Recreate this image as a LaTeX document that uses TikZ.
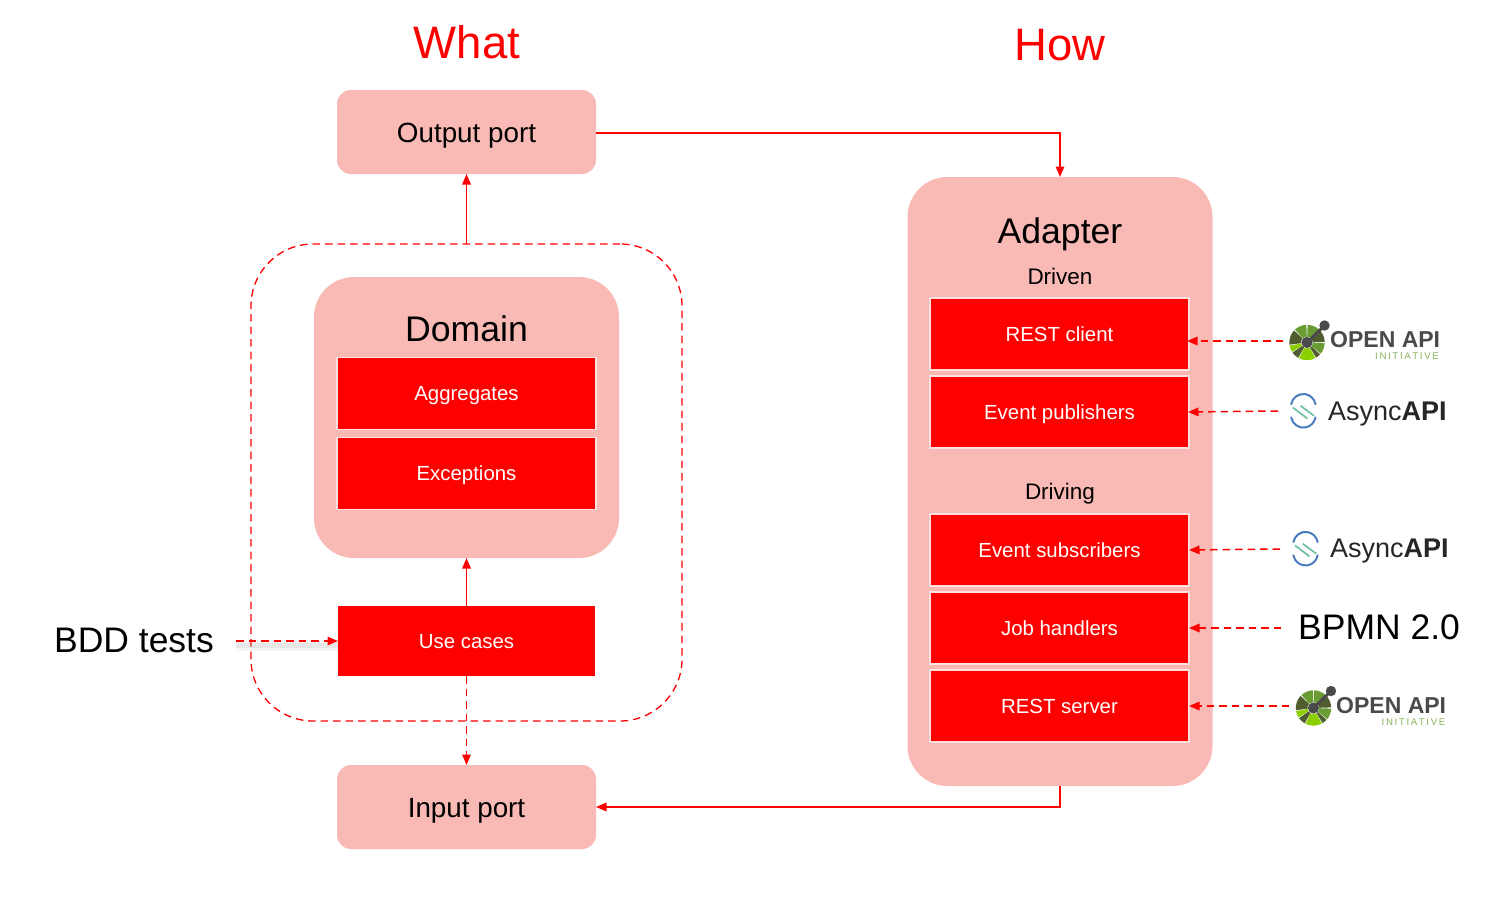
\documentclass[tikz,border=0pt]{standalone}
\usepackage{fontspec}
\setmainfont{Liberation Sans}
\usepackage{tikz}
\usetikzlibrary{arrows.meta, positioning, calc}
\definecolor{boxpink}{HTML}{F9B9B4}
\definecolor{logogray}{HTML}{4A4A4A}
\definecolor{oaiolive}{HTML}{4F5D2F}
\definecolor{oaigreen}{HTML}{6A9C34}
\definecolor{oailime}{HTML}{8CCF00}
\definecolor{oaitext}{HTML}{86B35A}
\definecolor{asyncblue}{HTML}{4A7BBE}
\definecolor{asyncgreen}{HTML}{6CC0A0}
\newcommand{\fsz}[1]{\fontsize{#1}{#1}\selectfont}
\tikzset{
    pinkbox/.style={fill=boxpink, rounded corners=14pt, minimum width=259pt, minimum height=84pt, inner sep=0pt, outer sep=0pt, font=\fsz{27.8}, text height=20pt, text depth=0pt},
    bigbox/.style={fill=boxpink, rounded corners=40pt, inner sep=0pt, outer sep=0pt},
    redbox/.style={fill=red, draw=red!12, line width=1.5pt, minimum width=259pt, minimum height=72pt, inner sep=0pt, outer sep=0pt, text=white, font=\fsz{20.4}, text height=14.7pt, text depth=0pt},
    usebox/.style={fill=red, minimum width=257pt, minimum height=70pt, inner sep=0pt, outer sep=0pt, text=white, font=\fsz{20.4}, text height=14.7pt, text depth=0pt},
    headlabel/.style={text=red, font=\fsz{45.5}, inner sep=0pt},
    titlelabel/.style={font=\fsz{35.6}, inner sep=0pt, text height=25.6pt, text depth=0pt},
    sublabel/.style={font=\fsz{22.5}, inner sep=0pt, text height=16.2pt, text depth=0pt},
    flow/.style={-{Triangle[length=10.5pt,width=8.5pt]}, draw=red, line width=1.5pt},
    dashflow/.style={flow, dash pattern=on 7.5pt off 5pt},
    pics/openapilogo/.style={code={
        \begin{scope}[y=1pt]
        \foreach \angA/\angB/\segcol in {92/133/oaigreen, 137/187/oaiolive, 190/212/oailime, 215/240/oaiolive, 243/298/oailime, 301/318/oaiolive, 321/358/oaigreen, 2/42/oaiolive, 48/88/oaigreen}{
            \fill[\segcol] (\angA:17.7) arc (\angA:\angB:17.7) -- (\angB:6) arc (\angB:\angA:6) -- cycle;
        }
        \draw[logogray, line width=3pt] (0,0) -- (17.5,17);
        \fill[logogray] (0,0) circle (5.6) (17.5,17) circle (5.2);
        \end{scope}
    }},
    pics/asynclogo/.style={code={
        \begin{scope}[y=1pt]
        \draw[asyncblue, line width=2pt, line cap=round] (170:12.3) ++(0,4.5) arc (170:10:12.3);
        \draw[asyncblue, line width=2pt, line cap=round] (190:12.3) ++(0,-4.5) arc (190:350:12.3);
        \draw[asyncgreen, line width=1.7pt] (-10.5,3.3) -- (4,-7.7) (-2.7,5) -- (10.7,-5);
        \end{scope}
    }},
    openlabel/.style={text=logogray, font=\fsz{23}\bfseries, inner sep=0pt, text height=16.5pt, text depth=0pt},
    initlabel/.style={text=oaitext, font=\fsz{9.7}, inner sep=0pt, text height=6.6pt, text depth=0pt},
    asynclabel/.style={text=black!85, font=\fsz{27}, inner sep=0pt, text height=19.4pt, text depth=0pt},
}
\begin{document}
\begin{tikzpicture}[x=1pt, y=-1pt]
    \useasboundingbox (0,0) rectangle (1500,902);
    % titles
    \node[headlabel] (what) at (467,42) {What};
    \node[headlabel] (how) at (1060,45) {How};
    % left column
    \node[pinkbox] (output) at (466.5,132) {Output port};
    \node[pinkbox] (input) at (466.5,807) {Input port};
    \node[draw=red, dash pattern=on 7.5pt off 5pt, line width=1.3pt, rounded corners=62pt, minimum width=431pt, minimum height=477pt, inner sep=0pt, outer sep=0pt] (boundary) at (466.5,482.5) {};
    \node[bigbox, minimum width=305pt, minimum height=281pt] (domain) at (466.5,417.5) {};
    \node[titlelabel] (domaintitle) at (466.5,329) {Domain};
    \node[redbox] (aggregates) at (466.5,393.5) {Aggregates};
    \node[redbox] (exceptions) at (466.5,473.5) {Exceptions};
    \node[usebox] (usecases) at (466.5,641) {Use cases};
    \node[font=\fsz{35.5}, inner sep=0pt] (bdd) at (134,640) {BDD tests};
    % right column
    \node[bigbox, minimum width=305pt, minimum height=609pt] (adapter) at (1060,481.5) {};
    \node[titlelabel] (adaptertitle) at (1060,231) {Adapter};
    \node[sublabel] (driven) at (1060,276) {Driven};
    \node[redbox] (restclient) at (1059.5,334) {REST client};
    \node[redbox] (publishers) at (1059.5,412) {Event publishers};
    \node[sublabel] (driving) at (1060,491) {Driving};
    \node[redbox] (subscribers) at (1059.5,550) {Event subscribers};
    \node[redbox] (jobs) at (1059.5,628) {Job handlers};
    \node[redbox] (restserver) at (1059.5,706) {REST server};
    % logos
    \pic at (1307,342.5) {openapilogo};
    \node[openlabel, anchor=west] (opentop) at (1330,339) {OPEN API};
    \node[initlabel, anchor=east] (inittop) at (1439,356) {I\,N\,I\,T\,I\,A\,T\,I\,V\,E};
    \pic at (1303.3,410.8) {asynclogo};
    \node[asynclabel, anchor=west] (asynctop) at (1328,411.2) {Async\textbf{API}};
    \pic at (1305.5,548.7) {asynclogo};
    \node[asynclabel, anchor=west] (asyncbot) at (1330,547.8) {Async\textbf{API}};
    \node[font=\fsz{35.5}, inner sep=0pt, anchor=west, text height=25.6pt, text depth=0pt] (bpmn) at (1298,627) {BPMN 2.0};
    \pic at (1313.5,708) {openapilogo};
    \node[openlabel, anchor=west] (openbot) at (1336,705) {OPEN API};
    \node[initlabel, anchor=east] (initbot) at (1445.5,722) {I\,N\,I\,T\,I\,A\,T\,I\,V\,E};
    % free ends of the logo arrows
    \coordinate (fromopentop) at (1283,341);
    \coordinate (fromasynctop) at (1278,411);
    \coordinate (fromasyncbot) at (1280,549);
    \coordinate (frombpmn) at (1281,628);
    \coordinate (fromopenbot) at (1289,706);
    \coordinate (frombdd) at (236,641);
    % connectors
    \draw[flow] ([yshift=-1pt]output.east) -| (adapter.north);
    \draw[flow] (adapter.south) |- (input.east);
    \draw[flow] (boundary.north) -- (output.south);
    \draw[flow] (usecases.north) -- (domain.south);
    \draw[dashflow] (usecases.south) -- (input.north);
    \draw[draw=gray, opacity=0.08, line width=11pt] ([yshift=-4pt]frombdd) -- ([yshift=-4pt]usecases.west);
    \draw[draw=gray, opacity=0.12, line width=5pt] ([yshift=-4pt]frombdd) -- ([yshift=-4pt]usecases.west);
    \draw[dashflow] (frombdd) -- (usecases.west);
    \draw[dashflow, shorten >=-2pt] (fromopentop) -- (restclient.east |- fromopentop);
    \draw[dashflow, shorten >=-1pt] (fromasynctop) -- (publishers.east);
    \draw[dashflow] (fromasyncbot) -- (subscribers.east);
    \draw[dashflow] (frombpmn) -- (jobs.east);
    \draw[dashflow] (fromopenbot) -- (restserver.east);
\end{tikzpicture}
\end{document}
